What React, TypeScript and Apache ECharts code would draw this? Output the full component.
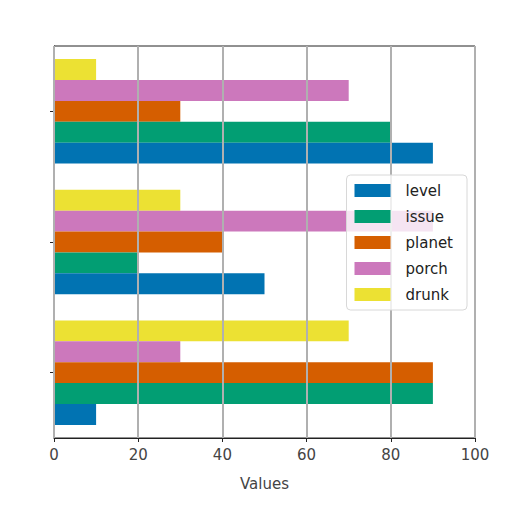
import { useEffect, useRef } from 'react'
import * as echarts from 'echarts'

// Grouped horizontal bars, matplotlib "colorblind" look.
const categories = ['A', 'B', 'C']
const seriesNames = ['level', 'issue', 'planet', 'porch', 'drunk']
const level = [10, 50, 90]
const issue = [90, 20, 80]
const planet = [90, 40, 30]
const porch = [30, 90, 70]
const drunk = [70, 30, 10]
const xTicks = [0, 20, 40, 60, 80, 100]

const COLORS = ['#0173B2', '#029E73', '#D55E00', '#CC78BC', '#ECE133']
const FONT = "'DejaVu Sans', sans-serif"

export default function App() {
  const ref = useRef<HTMLDivElement>(null)

  useEffect(() => {
    const el = ref.current
    if (!el) return
    const chart = echarts.init(el, undefined, { renderer: 'svg' })
    const values = [level, issue, planet, porch, drunk]
    // echarts stacks the first series of a group at the top, matplotlib at the bottom
    const order = seriesNames.map((_, i) => i).reverse()
    chart.setOption({
      animation: false,
      textStyle: { fontFamily: FONT },
      grid: { left: 54, right: 37, top: 46, bottom: 74, show: true, borderColor: '#222', borderWidth: 1 },
      legend: {
        orient: 'vertical',
        right: 45,
        top: 175,
        icon: 'rect',
        itemWidth: 36,
        itemHeight: 13,
        itemGap: 11,
        padding: [8, 14, 8, 8],
        backgroundColor: 'rgba(255,255,255,0.8)',
        borderColor: '#d8d8d8',
        borderWidth: 1,
        borderRadius: 4,
        z: 10,
        textStyle: { fontSize: 15, color: '#222', fontFamily: FONT, padding: [0, 0, 0, 10] },
        data: seriesNames,
      },
      xAxis: {
        type: 'value',
        min: xTicks[0],
        max: xTicks[xTicks.length - 1],
        interval: 20,
        z: 3,
        name: 'Values',
        nameLocation: 'middle',
        nameGap: 38,
        nameTextStyle: { fontSize: 15, color: '#444', fontFamily: FONT },
        axisLine: { show: true, lineStyle: { color: '#222', width: 1 } },
        axisTick: { show: true, length: 4, lineStyle: { color: '#222' } },
        axisLabel: { fontSize: 15, color: '#444', margin: 9, fontFamily: FONT },
        splitLine: { show: true, lineStyle: { color: '#b0b0b0', width: 2 } },
      },
      yAxis: {
        type: 'category',
        data: categories,
        axisLine: { show: true, lineStyle: { color: '#222', width: 1 } },
        axisTick: { show: true, alignWithLabel: true, length: 4, lineStyle: { color: '#222' } },
        axisLabel: { show: false },
        splitLine: { show: false },
      },
      series: order.map((i) => ({
        name: seriesNames[i],
        type: 'bar',
        data: values[i],
        barGap: '0%',
        barCategoryGap: '20%',
        itemStyle: { color: COLORS[i] },
        emphasis: { disabled: true },
      })),
    })
    return () => chart.dispose()
  }, [])

  return (
    <div
      ref={ref}
      style={{ position: 'fixed', left: 0, top: 0, width: 512, height: 512, background: '#fff' }}
    />
  )
}
